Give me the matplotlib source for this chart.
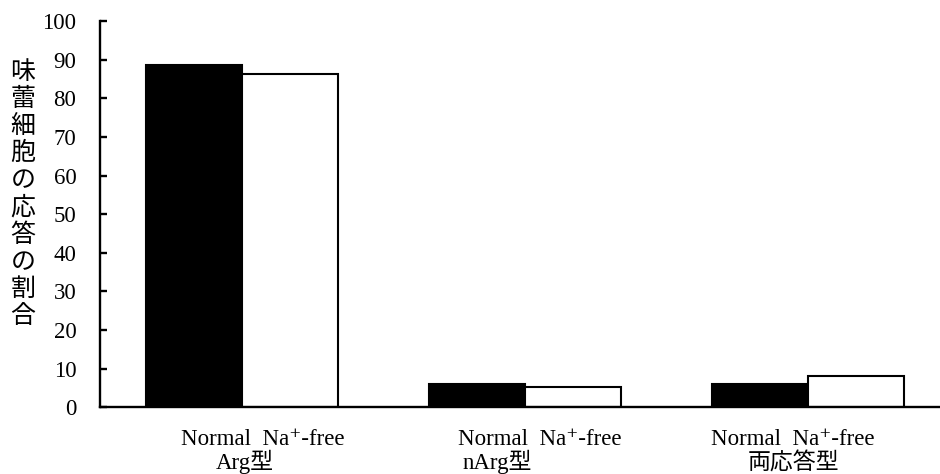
import matplotlib
matplotlib.use("Agg")
import matplotlib.pyplot as plt
import numpy as np

# ---- data ----
categories = ["Arg型", "nArg型", "両応答型"]
conditions = ["Normal", "Na⁺-free"]
normal_vals = [88.5, 6.0, 6.0]
nafree_vals = [86.4, 5.3, 8.1]
y_ticks = [0, 10, 20, 30, 40, 50, 60, 70, 80, 90, 100]
y_label = "味蕾細胞の応答の割合"

# ---- style ----
serif = ['Liberation Serif', 'DejaVu Serif', 'Noto Sans CJK JP']
cjk = ['Noto Sans CJK JP', 'DejaVu Sans']
fs = 16.5

fig = plt.figure(figsize=(9.4, 4.74), dpi=100)
ax = fig.add_axes([100/940, (474-407.3)/474, 840/940, (407.3-21)/474])

x = np.arange(len(categories))
w = 0.34
ax.bar(x - w/2, normal_vals, width=w, color='black', edgecolor='black', linewidth=1.5)
ax.bar(x + w/2, nafree_vals, width=w, color='white', edgecolor='black', linewidth=1.5)

ax.set_xlim(-0.502, 2.466)
ax.set_ylim(0, 100)
ax.set_yticks(y_ticks)
ax.set_yticklabels([str(v) for v in y_ticks], family=serif, fontsize=fs)
ax.tick_params(axis='y', direction='in', length=5, width=1.7, pad=17)
ax.set_xticks([])

for s in ['top', 'right']:
    ax.spines[s].set_visible(False)
for s in ['left', 'bottom']:
    ax.spines[s].set_linewidth(1.7)

# category labels (two lines)
line1_off = [0.072, 0.051, -0.055]
line2_off = [0.011, -0.099, -0.053]
for i, cat in enumerate(categories):
    ax.annotate(f"{conditions[0]}  {conditions[1]}", xy=(x[i] + line1_off[i], 0),
                xycoords=('data', 'axes fraction'), xytext=(0, -27.1),
                textcoords='offset points', ha='center', va='baseline',
                family=serif, fontsize=fs)
    ax.annotate(cat, xy=(x[i] + line2_off[i], 0),
                xycoords=('data', 'axes fraction'), xytext=(0, -44.5),
                textcoords='offset points', ha='center', va='baseline',
                family=serif, fontsize=fs, annotation_clip=False)

# vertical stacked y label
fig.text(23/940, 1 - 194/474, "\n".join(y_label), ha='center', va='center',
         family=cjk, fontsize=18, linespacing=1.06)

fig.savefig("out.png", dpi=100)
